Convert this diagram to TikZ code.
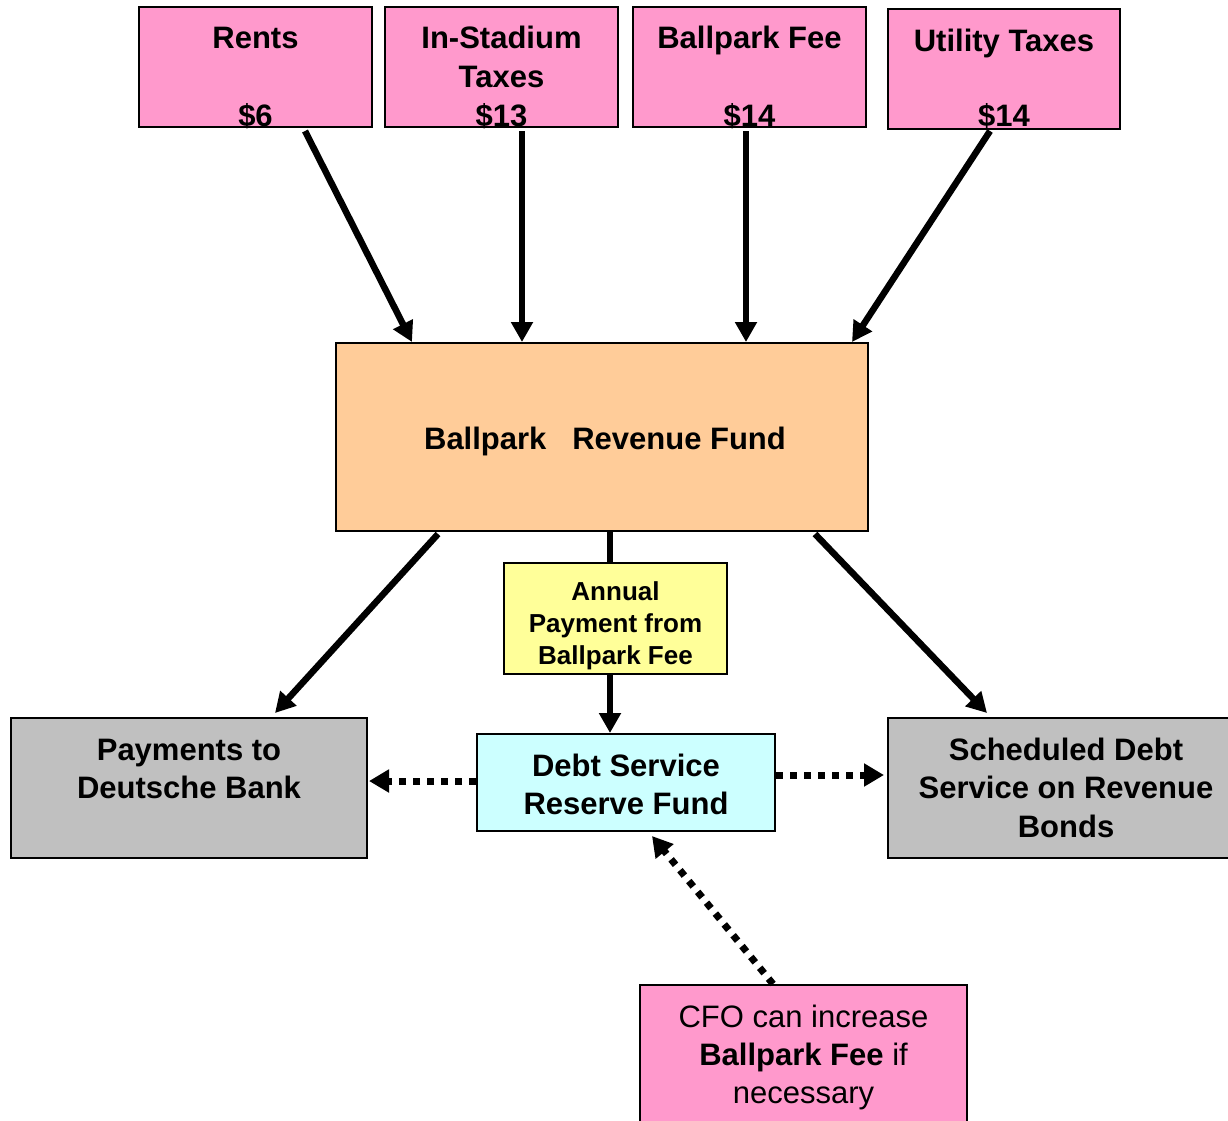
\documentclass[tikz,border=0pt]{standalone}
\usepackage{fontspec}
\setmainfont{Liberation Sans}
\usetikzlibrary{arrows.meta}
\definecolor{pinkc}{HTML}{FF99CC}
\definecolor{orangec}{HTML}{FFCC99}
\definecolor{yellowc}{HTML}{FFFF99}
\definecolor{cyanc}{HTML}{CCFFFF}
\definecolor{grayc}{HTML}{C0C0C0}
\tikzset{
  box/.style={draw=black, line width=2pt, inner sep=0pt, rectangle},
  lbl/.style={anchor=base, inner sep=0pt, font=\fontsize{31}{38}\selectfont\bfseries},
  lblsm/.style={anchor=base, inner sep=0pt, font=\fontsize{26}{32}\selectfont\bfseries},
  lblrg/.style={anchor=base, inner sep=0pt, font=\fontsize{31}{38}\selectfont},
  arr/.style={line width=6.5pt, -{Triangle[length=20pt,width=21pt]}},
  plain/.style={line width=6.5pt},
  dotarr/.style={line width=7pt, dash pattern=on 7pt off 7pt, -{Triangle[length=20pt,width=22pt]}}
}
\begin{document}
\begin{tikzpicture}[x=1pt,y=-1pt]
\useasboundingbox (0,0) rectangle (1228,1120);
% top boxes
\node[box, fill=pinkc, minimum width=233pt, minimum height=120pt] (rents) at (255.5,67) {};
\node[box, fill=pinkc, minimum width=233pt, minimum height=120pt] (stad) at (501.5,67) {};
\node[box, fill=pinkc, minimum width=233pt, minimum height=120pt] (fee) at (749.5,67) {};
\node[box, fill=pinkc, minimum width=232pt, minimum height=120pt] (util) at (1004,69) {};
\node[lbl] (t1) at (255.5,48) {Rents};
\node[lbl] (t2) at (255.5,126) {\$6};
\node[lbl] (t3) at (501.5,48) {In-Stadium};
\node[lbl] (t4) at (501.5,87) {Taxes};
\node[lbl] (t5) at (501.5,126) {\$13};
\node[lbl] (t6) at (749.5,48) {Ballpark Fee};
\node[lbl] (t7) at (749.5,126) {\$14};
\node[lbl] (t8) at (1004,51) {Utility Taxes};
\node[lbl] (t9) at (1004,126) {\$14};
% revenue fund
\node[box, fill=orangec, minimum width=532pt, minimum height=188pt] (rev) at (602,437) {};
\node[lbl] (t10) at (605,449) {Ballpark\ \ \ Revenue Fund};
% annual
\node[box, fill=yellowc, minimum width=223pt, minimum height=111pt] (ann) at (615.5,618.5) {};
\node[lblsm] (t11) at (615.5,600) {Annual};
\node[lblsm] (t12) at (615.5,632) {Payment from};
\node[lblsm] (t13) at (615.5,664) {Ballpark Fee};
% DSRF
\node[box, fill=cyanc, minimum width=298pt, minimum height=97pt] (dsrf) at (626,782.5) {};
\node[lbl] (t14) at (626,776) {Debt Service};
\node[lbl] (t15) at (626,814) {Reserve Fund};
% payments
\node[box, fill=grayc, minimum width=356pt, minimum height=140pt] (pay) at (189,788) {};
\node[lbl] (t16) at (189,760) {Payments to};
\node[lbl] (t17) at (189,798) {Deutsche Bank};
% scheduled
\node[box, fill=grayc, minimum width=344pt, minimum height=140pt] (sched) at (1060,788) {};
\node[lbl] (t18) at (1066,760) {Scheduled Debt};
\node[lbl] (t19) at (1066,798) {Service on Revenue};
\node[lbl] (t20) at (1066,837) {Bonds};
% CFO
\node[box, fill=pinkc, minimum width=327pt, minimum height=150pt] (cfo) at (803.5,1060) {};
\node[lblrg] (t21) at (803.5,1027) {CFO can increase};
\node[lblrg] (t22) at (803.5,1065) {\textbf{Ballpark Fee} if};
\node[lblrg] (t23) at (803.5,1103) {necessary};
% arrows from top
\draw[arr] ([xshift=49.5pt,yshift=-3pt]rents.south) -- ([xshift=-190pt]rev.north);
\draw[arr] ([xshift=20.5pt,yshift=-3pt]stad.south) -- ([xshift=-80pt]rev.north);
\draw[arr] ([xshift=-3.5pt,yshift=-3pt]fee.south) -- ([xshift=144pt]rev.north);
\draw[arr] ([xshift=-14pt,yshift=-1pt]util.south) -- ([xshift=250pt]rev.north);
% arrows from revenue fund
\draw[arr] ([xshift=-164pt,yshift=-2pt]rev.south) -- ([xshift=86pt,yshift=4pt]pay.north);
\draw[arr] ([xshift=213pt,yshift=-2pt]rev.south) -- ([xshift=-73pt,yshift=4pt]sched.north);
\draw[plain] ([xshift=8pt]rev.south) -- ([xshift=-5.5pt]ann.north);
\draw[arr] ([xshift=-5.5pt]ann.south) -- ([xshift=-16pt]dsrf.north);
% dotted
\draw[dotarr] ([yshift=1.5pt]dsrf.west) -- ([xshift=1pt,yshift=7pt]pay.east);
\draw[dotarr] ([yshift=7.5pt]dsrf.east) -- ([xshift=-3pt,yshift=13pt]sched.west);
\draw[dotarr] ([xshift=-30.5pt]cfo.north) -- ([xshift=26pt,yshift=-4pt]dsrf.south);
\end{tikzpicture}
\end{document}
